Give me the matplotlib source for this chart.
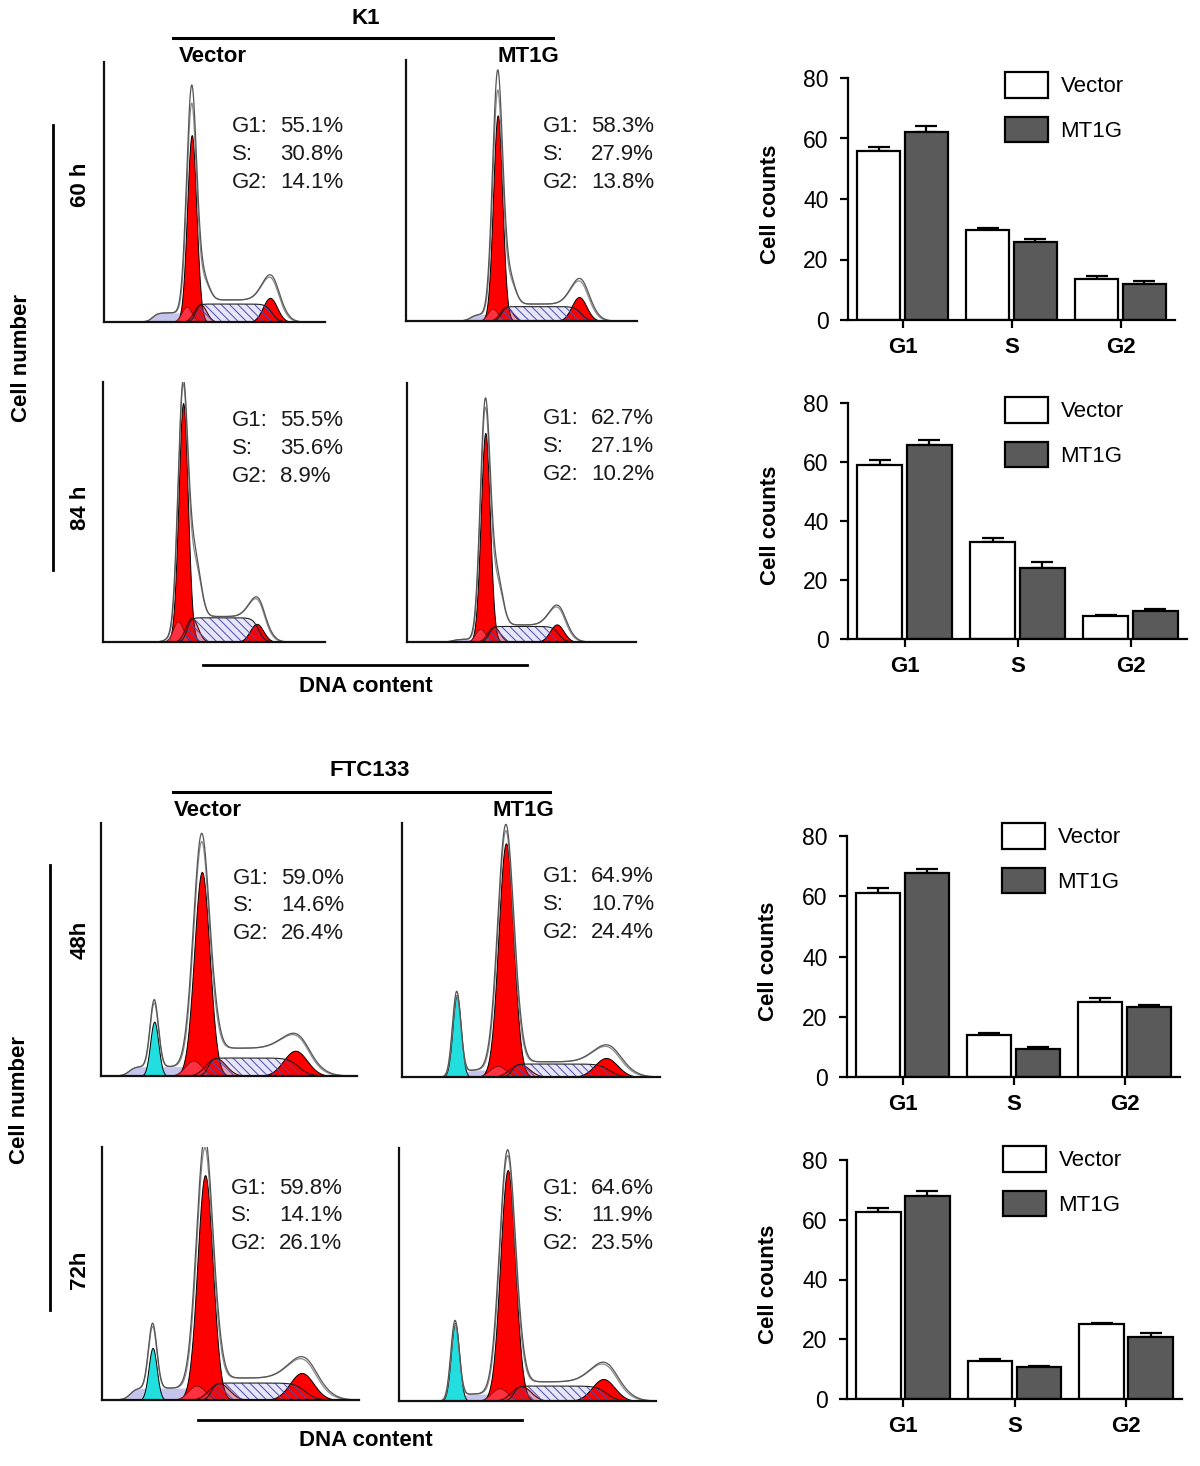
import numpy as np
import matplotlib

matplotlib.use("Agg")
import matplotlib.pyplot as plt
from matplotlib.lines import Line2D

plt.rcParams["font.family"] = ["Liberation Sans", "DejaVu Sans"]
plt.rcParams["hatch.linewidth"] = 0.7

W, H = 1200, 1466

# --- data ---------------------------------------------------------------
PHASES = ["G1", "S", "G2"]

# flow panels, order: K1 60h V, K1 60h M, K1 84h V, K1 84h M,
#                     FTC133 48h V, FTC133 48h M, FTC133 72h V, FTC133 72h M
g1_pct = [55.1, 58.3, 55.5, 62.7, 59.0, 64.9, 59.8, 64.6]
s_pct = [30.8, 27.9, 35.6, 27.1, 14.6, 10.7, 14.1, 11.9]
g2_pct = [14.1, 13.8, 8.9, 10.2, 26.4, 24.4, 26.1, 23.5]

# peak read-outs (x in % of axis width, heights in % of axis height)
g1_center = [39.7, 39.7, 36.1, 34.2, 39.4, 40.3, 40.1, 42.3]
g1_width = [2.1, 2.0, 2.1, 2.0, 3.0, 2.9, 3.0, 2.9]
g1_height = [71.9, 78.8, 91.9, 80.7, 80.7, 92.0, 88.9, 91.3]
g1_raw = [87.3, 93.0, 97.3, 91.4, 92.6, 97.0, 100.0, 96.8]
g1_raw2 = [80.4, 85.4, 95.7, 88.0, 89.3, 94.5, 95.6, 94.5]
g2_center = [75.1, 74.9, 69.2, 65.4, 75.9, 79.1, 77.7, 79.5]
g2_width = [3.2, 3.2, 3.0, 3.0, 4.6, 4.4, 4.6, 4.4]
g2_height = [9.3, 9.2, 7.0, 6.8, 10.0, 7.5, 10.7, 8.7]
g2_raw = [16.9, 15.4, 15.8, 13.3, 15.0, 11.8, 15.8, 14.2]
s_height = [6.9, 5.5, 9.3, 6.0, 7.1, 5.1, 6.7, 5.9]
s_raw = [8.5, 6.5, 9.8, 6.6, 11.0, 6.0, 8.7, 7.6]
shoulder = [8, 10, 22, 18, 0, 0, 0, 0]
debris_start = [22, 28, 28, 20, 11, 24, 11, 24]
debris_height = [3.5, 2.5, 1.5, 1.0, 3.7, 2.8, 4.7, 2.8]
# chicken erythrocyte reference peak (FTC133 panels only)
cen_center = [None, None, None, None, 20.8, 21.2, 19.7, 21.8]
cen_height = [0, 0, 0, 0, 21.5, 32.3, 20.6, 30.8]
cen_raw = [0, 0, 0, 0, 26.5, 33.5, 25.7, 31.5]

# bar charts: mean and upper error
k1_60h_vector = [56.0, 29.8, 13.6]
k1_60h_vector_err = [1.3, 0.5, 1.0]
k1_60h_mt1g = [62.0, 25.7, 11.8]
k1_60h_mt1g_err = [2.2, 1.1, 1.1]
k1_84h_vector = [59.0, 32.9, 7.8]
k1_84h_vector_err = [1.7, 1.3, 0.5]
k1_84h_mt1g = [65.8, 24.1, 9.5]
k1_84h_mt1g_err = [1.7, 2.0, 0.6]
ftc_48h_vector = [61.1, 13.9, 24.9]
ftc_48h_vector_err = [1.6, 0.6, 1.3]
ftc_48h_mt1g = [67.7, 9.3, 23.2]
ftc_48h_mt1g_err = [1.3, 0.8, 0.6]
ftc_72h_vector = [62.6, 12.7, 25.1]
ftc_72h_vector_err = [1.3, 0.7, 0.5]
ftc_72h_mt1g = [68.0, 10.7, 20.8]
ftc_72h_mt1g_err = [1.6, 0.5, 1.3]

# --- layout (pixels: left, right, top, bottom) --------------------------
FLOW_BOXES = [
    (104, 325, 62, 322), (406, 637, 60, 321),
    (103, 325, 382, 642), (407, 636, 383, 642),
    (101, 357, 823, 1076), (402, 660, 823, 1077),
    (102, 359, 1147, 1400), (399, 656, 1148, 1401),
]
FLOW_TEXT = [(232, 127), (543, 127), (232, 421), (543, 419),
             (233, 878), (543, 877), (231, 1188), (543, 1188)]
BAR_BOXES = [(848, 1175, 78, 320), (848, 1187, 403, 639),
             (847, 1180, 836, 1077), (847, 1182, 1160, 1399)]
LEGEND_XY = [(1005, 72), (1005, 397), (1002, 823), (1003, 1146)]

fig = plt.figure(figsize=(12, 14.66), dpi=100)


def fx(x):
    return x / W


def fy(y):
    return 1 - y / H


def axes_px(box):
    left, right, top, bottom = box
    return fig.add_axes([fx(left), fy(bottom), (right - left) / W, (bottom - top) / H])


def ftext(x, y, s, **kw):
    fig.text(fx(x), fy(y), s, ha="center", va="center", **kw)


def fline(x0, y0, x1, y1, lw=2.0):
    fig.add_artist(Line2D([fx(x0), fx(x1)], [fy(y0), fy(y1)], color="black", lw=lw))


def bell(x, c, s):
    return np.exp(-0.5 * ((x - c) / s) ** 2)


def rise(x, c, w):
    return 1.0 / (1.0 + np.exp(-(x - c) / w))


def draw_flow(ax, i):
    x = np.linspace(0, 100, 1000)
    c1, w1 = g1_center[i], g1_width[i]
    c2, w2 = g2_center[i], g2_width[i]

    s_fit = s_height[i] * rise(x, c1 + 0.8 * w1, 0.9) * (1 - rise(x, c2 + 0.3 * w2, 0.45 * w2))
    debris = debris_height[i] * rise(x, debris_start[i], 1.2) * (1 - rise(x, c1 + 0.5 * w1, 0.8))
    g1 = g1_height[i] * bell(x, c1, w1)
    g2 = g2_height[i] * bell(x, c2, w2)
    left_bump = 0.85 * s_height[i] * bell(x, c1 - 1.1 * w1, 1.1 * w1)
    right_bump = s_height[i] * bell(x, c1 + 1.8 * w1, 1.3 * w1)

    raw_s = s_raw[i] * rise(x, c1 + 1.5 * w1, 1.0) * (1 - rise(x, c2 + 1.0 * w2, 0.5 * w2))
    base = raw_s + debris
    raw1 = (g1_raw[i] * bell(x, c1, 1.1 * w1) + shoulder[i] * bell(x, c1 + 2.6 * w1, 1.2 * w1)
            + (g2_raw[i] - 0.7 * s_raw[i]) * bell(x, c2 + 0.3 * w2, 1.35 * w2) + base)
    raw2 = (g1_raw2[i] * bell(x, c1, 1.05 * w1) + 0.9 * shoulder[i] * bell(x, c1 + 2.6 * w1, 1.2 * w1)
            + 0.9 * (g2_raw[i] - 0.7 * s_raw[i]) * bell(x, c2 + 0.2 * w2, 1.3 * w2) + base)

    ax.fill_between(x, 0, debris, color="#c4c4ec", lw=0, zorder=1)
    ax.fill_between(x, 0, s_fit, color="#e6e6f8", lw=0, zorder=1)

    if cen_center[i] is not None:
        cen = cen_height[i] * bell(x, cen_center[i], 1.6)
        ax.fill_between(x, 0, cen, facecolor="#22dede", edgecolor="black", lw=0.7, zorder=2)
        raw1 = raw1 + cen_raw[i] * bell(x, cen_center[i], 1.65)
        raw2 = raw2 + 0.95 * cen_raw[i] * bell(x, cen_center[i], 1.6)

    ax.fill_between(x, 0, g2, facecolor="#ff0000", edgecolor="black", lw=0.7, zorder=2)
    ax.fill_between(x, 0, g1, facecolor="#ff0000", edgecolor="black", lw=0.7, zorder=2)
    ax.fill_between(x, 0, left_bump, facecolor=(1, 0.35, 0.45, 0.55), edgecolor="#7a1010", lw=0.6, zorder=3)
    ax.fill_between(x, 0, right_bump, facecolor=(0.85, 0.1, 0.15, 0.35), edgecolor="#5a0000", lw=0.8, zorder=3)
    ax.fill_between(x, 0, s_fit, facecolor="none", edgecolor="#4b4bb0", hatch="\\\\\\\\", lw=0, zorder=3)
    ax.plot(x, s_fit, color="#202020", lw=0.8, zorder=3)

    ax.plot(x, raw2, color="#8a8a8a", lw=0.9, zorder=4)
    ax.plot(x, raw1, color="#555555", lw=0.9, zorder=4)

    ax.set_xlim(0, 100)
    ax.set_ylim(0, 100)
    ax.set_xticks([])
    ax.set_yticks([])
    ax.spines[["top", "right"]].set_visible(False)
    for side in ["left", "bottom"]:
        ax.spines[side].set_linewidth(1.6)
        ax.spines[side].set_color("#111111")
    ax.spines["bottom"].set_zorder(5)
    ax.patch.set_alpha(0)

    tx, ty = FLOW_TEXT[i]
    rows = [("G1:", g1_pct[i]), ("S:", s_pct[i]), ("G2:", g2_pct[i])]
    for k, (lab, val) in enumerate(rows):
        yy = ty + k * 27.7
        fig.text(fx(tx), fy(yy), lab, ha="left", va="center", fontsize=16, color="#1a1a1a")
        fig.text(fx(tx + 48), fy(yy), f"{val:.1f}%", ha="left", va="center", fontsize=16, color="#1a1a1a")


def draw_bars(ax, vec, vec_err, mt, mt_err, legend_xy):
    x = np.arange(len(PHASES))
    ax.bar(x - 0.22, vec, 0.40, color="white", edgecolor="black", linewidth=1.6, label="Vector", zorder=2)
    ax.bar(x + 0.22, mt, 0.40, color="#5a5a5a", edgecolor="black", linewidth=1.6, label="MT1G", zorder=2)
    ax.errorbar(x - 0.22, vec, yerr=[np.zeros(len(x)), vec_err], fmt="none", ecolor="black",
                elinewidth=1.6, capsize=8, capthick=1.6, zorder=1)
    ax.errorbar(x + 0.22, mt, yerr=[np.zeros(len(x)), mt_err], fmt="none", ecolor="black",
                elinewidth=1.6, capsize=8, capthick=1.6, zorder=1)
    ax.set_xlim(-0.5, 2.5)
    ax.set_ylim(0, 80)
    ax.set_yticks([0, 20, 40, 60, 80])
    ax.set_xticks(x, PHASES, fontweight="bold", fontsize=16)
    ax.tick_params(axis="y", labelsize=16.5, length=6, width=1.6, pad=8)
    ax.tick_params(axis="x", length=6, width=1.6, pad=6)
    ax.spines[["top", "right"]].set_visible(False)
    for side in ["left", "bottom"]:
        ax.spines[side].set_linewidth(1.6)
    ax.set_ylabel("Cell counts", fontsize=16, fontweight="bold", va="center")
    width_px = ax.get_position().width * W
    ax.yaxis.set_label_coords(-78 / width_px, 0.48)
    ax.legend(loc="upper left", bbox_to_anchor=(fx(legend_xy[0]), fy(legend_xy[1])),
              bbox_transform=fig.transFigure, frameon=False, fontsize=16,
              handlelength=1.95, handleheight=1.4, handletextpad=0.55,
              labelspacing=0.85, borderpad=0, borderaxespad=0)


for i, box in enumerate(FLOW_BOXES):
    draw_flow(axes_px(box), i)

bar_sets = [
    (k1_60h_vector, k1_60h_vector_err, k1_60h_mt1g, k1_60h_mt1g_err),
    (k1_84h_vector, k1_84h_vector_err, k1_84h_mt1g, k1_84h_mt1g_err),
    (ftc_48h_vector, ftc_48h_vector_err, ftc_48h_mt1g, ftc_48h_mt1g_err),
    (ftc_72h_vector, ftc_72h_vector_err, ftc_72h_mt1g, ftc_72h_mt1g_err),
]
for box, (v, ve, m, me), lxy in zip(BAR_BOXES, bar_sets, LEGEND_XY):
    draw_bars(axes_px(box), v, ve, m, me, lxy)

bold = dict(fontsize=16, fontweight="bold")

# K1 block
ftext(366, 18, "K1", **bold)
fline(173, 38, 553, 38, lw=2.2)
ftext(213, 56, "Vector", **bold)
ftext(528, 56, "MT1G", **bold)
ftext(80, 185, "60 h", rotation=90, **bold)
ftext(80, 508, "84 h", rotation=90, **bold)
fline(53, 125, 53, 570, lw=2.0)
ftext(22, 358, "Cell number", rotation=90, **bold)
fline(203, 665, 527, 665, lw=2.0)
ftext(366, 686, "DNA content", **bold)

# FTC133 block
ftext(370, 770, "FTC133", **bold)
fline(173, 792, 550, 792, lw=2.2)
ftext(208, 810, "Vector", **bold)
ftext(523, 810, "MT1G", **bold)
ftext(80, 940, "48h", rotation=90, **bold)
ftext(80, 1270, "72h", rotation=90, **bold)
fline(50, 865, 50, 1310, lw=2.0)
ftext(20, 1100, "Cell number", rotation=90, **bold)
fline(198, 1420, 522, 1420, lw=2.0)
ftext(366, 1440, "DNA content", **bold)

fig.savefig("out.png", dpi=100, facecolor="white")
